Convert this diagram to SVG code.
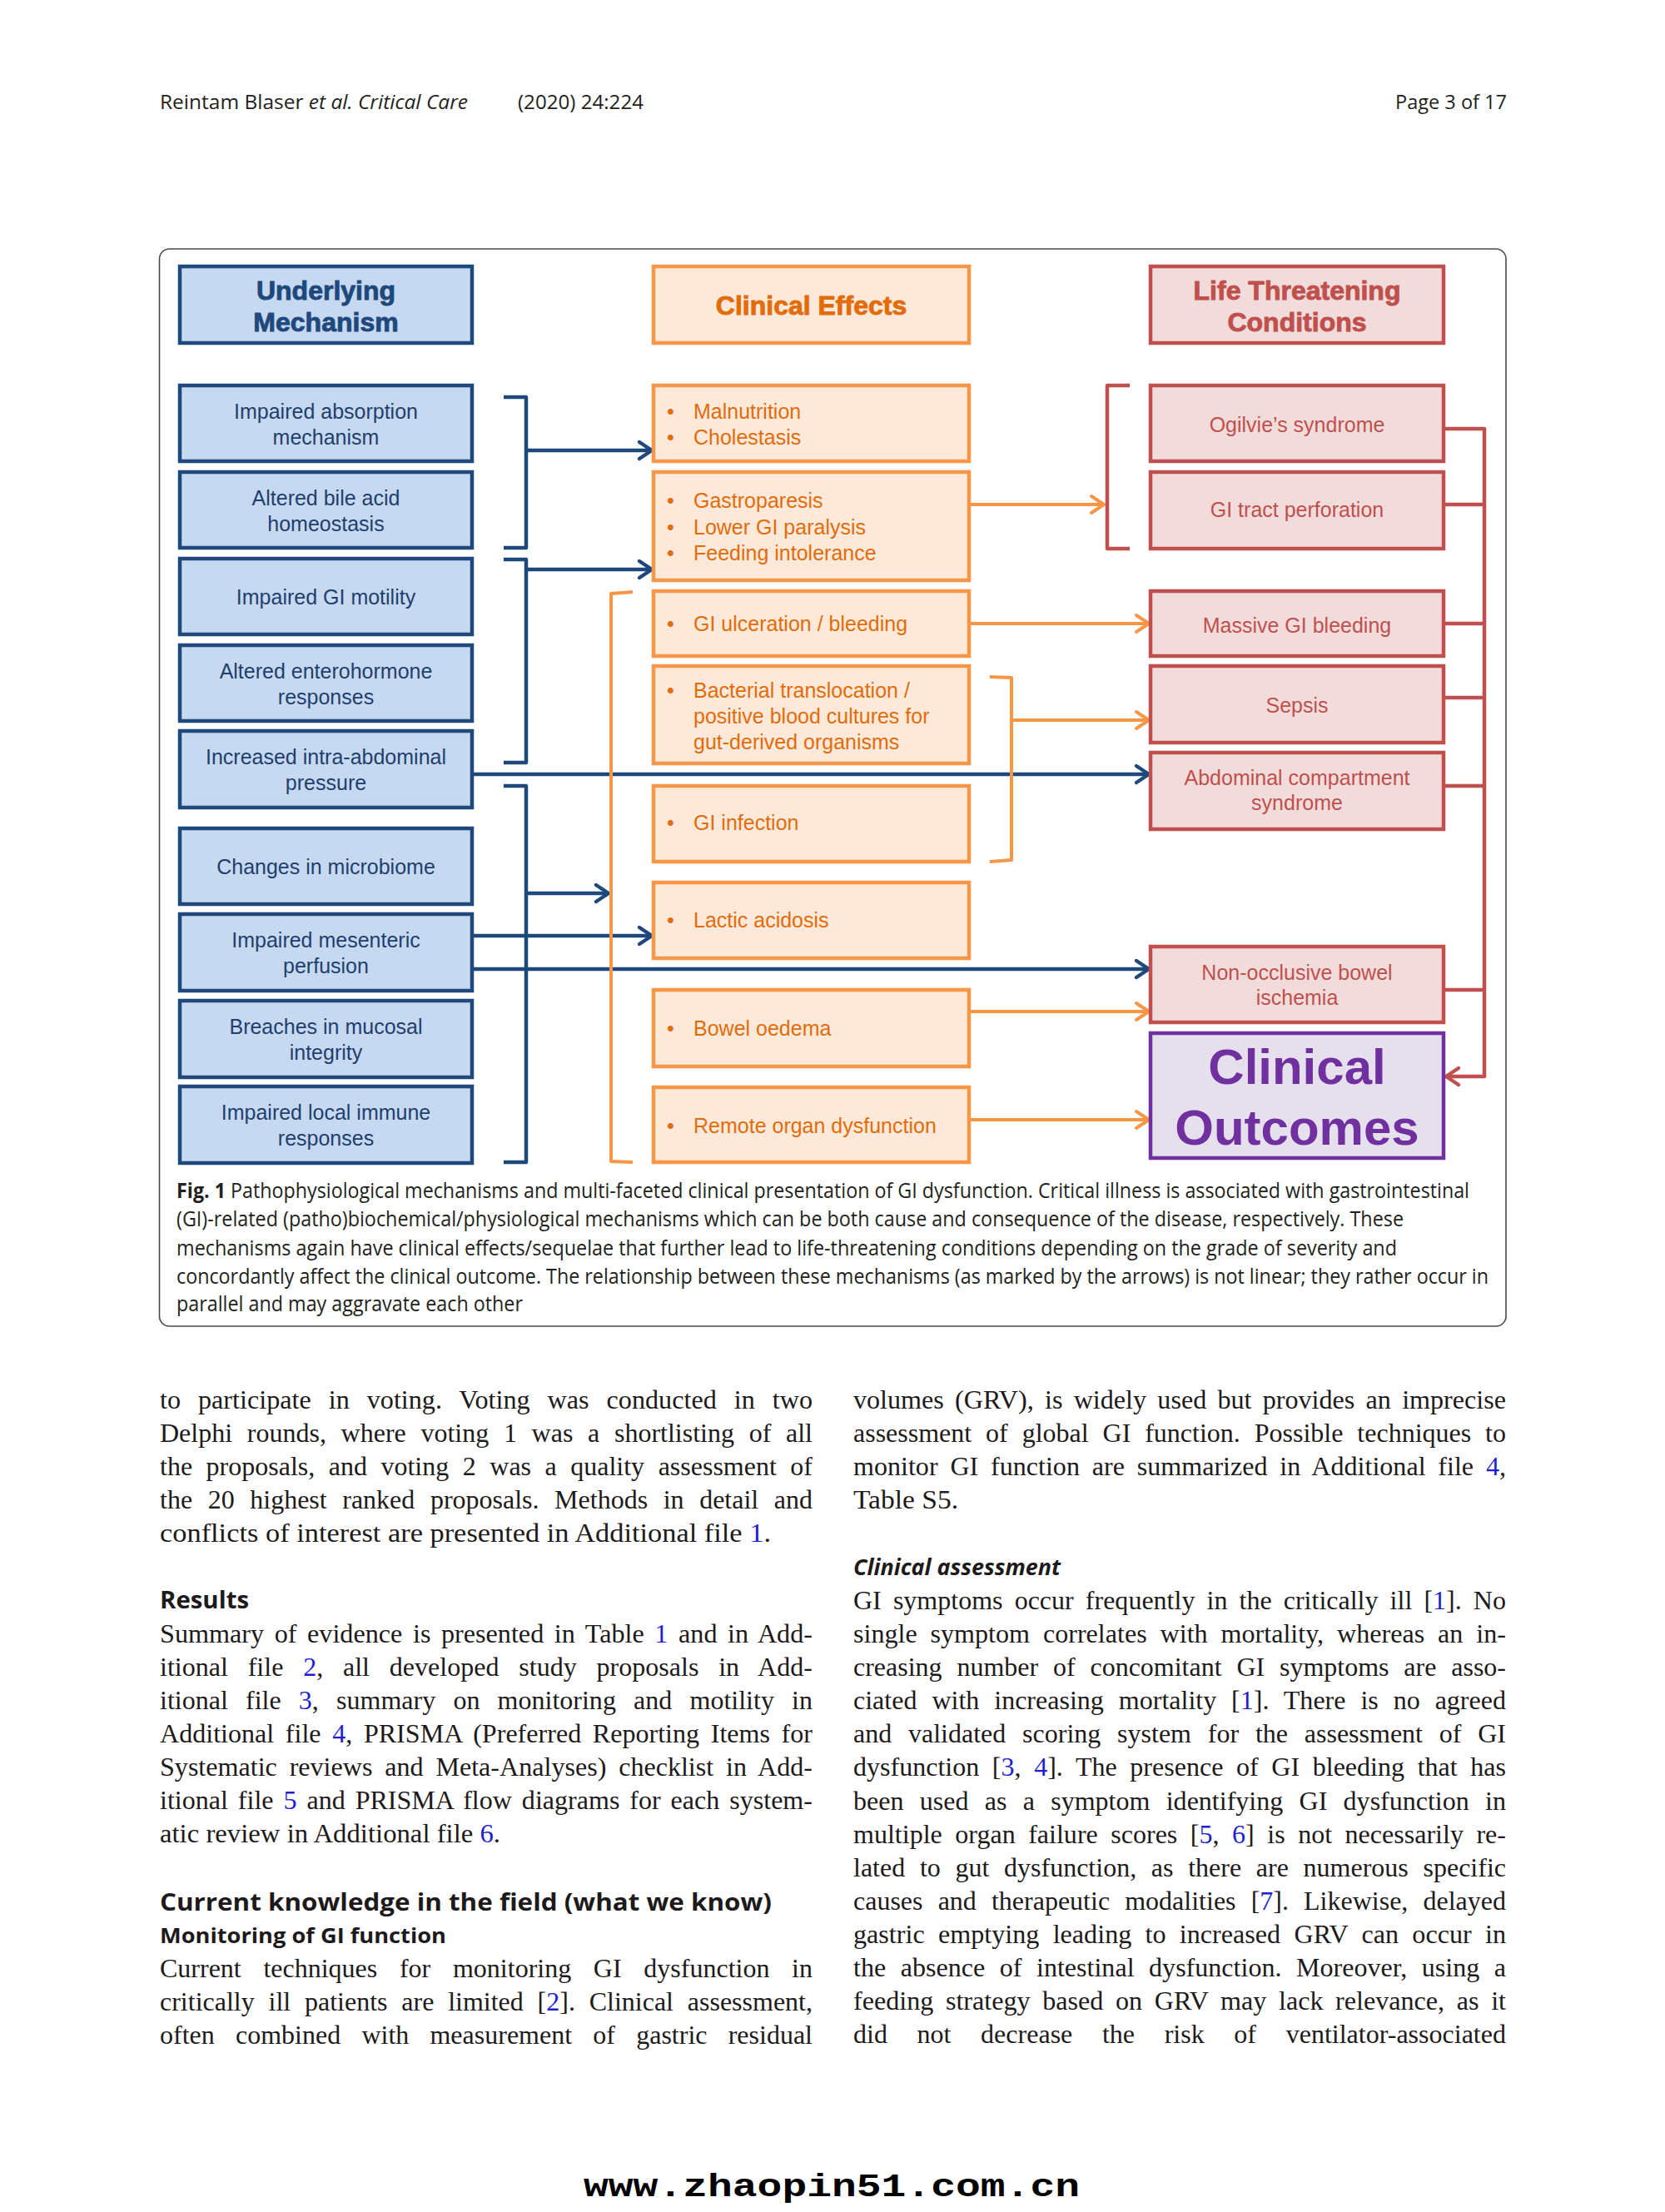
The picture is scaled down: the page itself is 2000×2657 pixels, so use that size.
<svg xmlns="http://www.w3.org/2000/svg" width="2000" height="2657" viewBox="0 0 2000 2657">
<style>
.bg{fill:#ffffff}
.frame{fill:none;stroke:#4a4a4a;stroke-width:1.6}
.bl{fill:#c6d9f1;stroke:#1f497d;stroke-width:4.5}
.or{fill:#fde9d9;stroke:#f79646;stroke-width:4.5}
.rd{fill:#f2dcdb;stroke:#c0504d;stroke-width:4.5}
.pu{fill:#e6e0ec;stroke:#7030a0;stroke-width:4.5}
.tb{font-family:"Liberation Sans",Arial,sans-serif;font-size:25px;fill:#1f3f6e;text-anchor:middle}
.to{font-family:"Liberation Sans",Arial,sans-serif;font-size:25px;fill:#e36c0a}
.tr{font-family:"Liberation Sans",Arial,sans-serif;font-size:25px;fill:#c0504d;text-anchor:middle}
.hd{font-family:"Liberation Sans",Arial,sans-serif;font-size:32px;font-weight:bold;text-anchor:middle;stroke-width:0.9}
.cb{fill:none;stroke:#1f497d;stroke-width:4.5;stroke-linejoin:round}
.co{fill:none;stroke:#f79646;stroke-width:4;stroke-linejoin:round}
.cr{fill:none;stroke:#c0504d;stroke-width:4.5;stroke-linejoin:round}
.cap{font-family:"Open Sans","Noto Sans",sans-serif;font-size:25px;fill:#231f20}
.body{font-family:"Liberation Serif","Times New Roman",serif;font-size:32px;fill:#1e1a1b}
.sh{font-family:"Open Sans","Noto Sans",sans-serif;font-weight:bold;fill:#1e1a1b}
.lk{fill:#1f1fd1}
.pg{font-family:"Open Sans","Noto Sans",sans-serif;font-size:24px;fill:#231f20}
</style>
<defs>
<marker id="ab" markerUnits="userSpaceOnUse" markerWidth="40" markerHeight="40" refX="0" refY="0" orient="auto" overflow="visible"><path d="M-15,-10 L0,0 L-15,10" fill="none" stroke="#1f497d" stroke-width="4.5" stroke-linecap="round" stroke-linejoin="round"/></marker>
<marker id="ao" markerUnits="userSpaceOnUse" markerWidth="40" markerHeight="40" refX="0" refY="0" orient="auto" overflow="visible"><path d="M-15,-10 L0,0 L-15,10" fill="none" stroke="#f79646" stroke-width="4" stroke-linecap="round" stroke-linejoin="round"/></marker>
<marker id="ar" markerUnits="userSpaceOnUse" markerWidth="40" markerHeight="40" refX="0" refY="0" orient="auto" overflow="visible"><path d="M-15,-10 L0,0 L-15,10" fill="none" stroke="#c0504d" stroke-width="4.5" stroke-linecap="round" stroke-linejoin="round"/></marker>
</defs>
<rect class="bg" x="0" y="0" width="2000" height="2657"/>

<g id="page-header">
<text class="pg" x="192" y="131" textLength="370" lengthAdjust="spacingAndGlyphs">Reintam Blaser <tspan font-style="italic">et al. Critical Care</tspan></text>
<text class="pg" x="622" y="131" textLength="151" lengthAdjust="spacingAndGlyphs">(2020) 24:224</text>
<text class="pg" x="1676" y="131" textLength="134" lengthAdjust="spacingAndGlyphs">Page 3 of 17</text>
</g>

<rect class="frame" x="191.5" y="299" width="1617.5" height="1294" rx="12"/>

<g id="connectors">
<path class="cb" d="M605,477 L632,477 L632,658 L605,658"/>
<path class="cb" d="M605,672 L632,672 L632,916 L605,916"/>
<path class="cb" d="M605,944 L632,944 L632,1396 L605,1396"/>
<line class="cb" x1="632" y1="541" x2="783" y2="541" marker-end="url(#ab)"/>
<line class="cb" x1="632" y1="684" x2="783" y2="684" marker-end="url(#ab)"/>
<line class="cb" x1="632" y1="1073" x2="731" y2="1073" marker-end="url(#ab)"/>
<line class="cb" x1="567" y1="930" x2="1380" y2="930" marker-end="url(#ab)"/>
<line class="cb" x1="567" y1="1124" x2="783" y2="1124" marker-end="url(#ab)"/>
<line class="cb" x1="567" y1="1164" x2="1380" y2="1164" marker-end="url(#ab)"/>
<path class="co" d="M760,711 L734,713 L734,1395 L760,1396"/>
<path class="co" d="M1189,813 L1215,814 L1215,1033 L1189,1035"/>
<line class="co" x1="1215" y1="865" x2="1380" y2="865" marker-end="url(#ao)"/>
<line class="co" x1="1164" y1="606" x2="1326" y2="606" marker-end="url(#ao)"/>
<line class="co" x1="1164" y1="749" x2="1380" y2="749" marker-end="url(#ao)"/>
<line class="co" x1="1164" y1="1215" x2="1380" y2="1215" marker-end="url(#ao)"/>
<line class="co" x1="1164" y1="1345" x2="1380" y2="1345" marker-end="url(#ao)"/>
<path class="cr" d="M1357,463 L1330,463 L1330,659 L1357,659"/>
<path class="cr" d="M1734,515 L1783,515 L1783,1293 L1737,1293" marker-end="url(#ar)"/>
<line class="cr" x1="1734" y1="606" x2="1783" y2="606"/>
<line class="cr" x1="1734" y1="749" x2="1783" y2="749"/>
<line class="cr" x1="1734" y1="838" x2="1783" y2="838"/>
<line class="cr" x1="1734" y1="944" x2="1783" y2="944"/>
<line class="cr" x1="1734" y1="1189" x2="1783" y2="1189"/>
</g>

<g id="h-mechanism"><rect class="bl" x="216" y="320" width="351" height="92"/>
<text class="hd" x="391.5" y="360" fill="#1f497d" stroke="#1f497d">Underlying</text><text class="hd" x="391.5" y="398" fill="#1f497d" stroke="#1f497d">Mechanism</text></g>
<g id="h-effects"><rect class="or" x="785" y="320" width="379" height="92"/>
<text class="hd" x="974.5" y="378" fill="#e36c0a" stroke="#e36c0a">Clinical Effects</text></g>
<g id="h-life"><rect class="rd" x="1382" y="320" width="352" height="92"/>
<text class="hd" x="1558" y="360" fill="#c0504d" stroke="#c0504d">Life Threatening</text><text class="hd" x="1558" y="398" fill="#c0504d" stroke="#c0504d">Conditions</text></g>

<g id="m1"><rect class="bl" x="216" y="463" width="351" height="91"/><text class="tb" x="391.5" y="503">Impaired absorption</text><text class="tb" x="391.5" y="534">mechanism</text></g>
<g id="m2"><rect class="bl" x="216" y="567" width="351" height="91"/><text class="tb" x="391.5" y="607">Altered bile acid</text><text class="tb" x="391.5" y="638">homeostasis</text></g>
<g id="m3"><rect class="bl" x="216" y="671" width="351" height="91"/><text class="tb" x="391.5" y="726">Impaired GI motility</text></g>
<g id="m4"><rect class="bl" x="216" y="775" width="351" height="91"/><text class="tb" x="391.5" y="815">Altered enterohormone</text><text class="tb" x="391.5" y="846">responses</text></g>
<g id="m5"><rect class="bl" x="216" y="878" width="351" height="92"/><text class="tb" x="391.5" y="918">Increased intra-abdominal</text><text class="tb" x="391.5" y="949">pressure</text></g>
<g id="m6"><rect class="bl" x="216" y="995" width="351" height="91"/><text class="tb" x="391.5" y="1050">Changes in microbiome</text></g>
<g id="m7"><rect class="bl" x="216" y="1098" width="351" height="92"/><text class="tb" x="391.5" y="1138">Impaired mesenteric</text><text class="tb" x="391.5" y="1169">perfusion</text></g>
<g id="m8"><rect class="bl" x="216" y="1202" width="351" height="92"/><text class="tb" x="391.5" y="1242">Breaches in mucosal</text><text class="tb" x="391.5" y="1273">integrity</text></g>
<g id="m9"><rect class="bl" x="216" y="1305" width="351" height="92"/><text class="tb" x="391.5" y="1345">Impaired local immune</text><text class="tb" x="391.5" y="1376">responses</text></g>

<g id="e1"><rect class="or" x="785" y="463" width="379" height="91"/><text class="to" x="801" y="503">•</text><text class="to" x="833" y="503">Malnutrition</text><text class="to" x="801" y="534">•</text><text class="to" x="833" y="534">Cholestasis</text></g>
<g id="e2"><rect class="or" x="785" y="567" width="379" height="130"/><text class="to" x="801" y="610">•</text><text class="to" x="833" y="610">Gastroparesis</text><text class="to" x="801" y="642">•</text><text class="to" x="833" y="642">Lower GI paralysis</text><text class="to" x="801" y="673">•</text><text class="to" x="833" y="673">Feeding intolerance</text></g>
<g id="e3"><rect class="or" x="785" y="710" width="379" height="78"/><text class="to" x="801" y="758">•</text><text class="to" x="833" y="758">GI ulceration / bleeding</text></g>
<g id="e4"><rect class="or" x="785" y="800" width="379" height="117"/><text class="to" x="801" y="838">•</text><text class="to" x="833" y="838">Bacterial translocation /</text><text class="to" x="833" y="869">positive blood cultures for</text><text class="to" x="833" y="900">gut-derived organisms</text></g>
<g id="e5"><rect class="or" x="785" y="944" width="379" height="91"/><text class="to" x="801" y="997">•</text><text class="to" x="833" y="997">GI infection</text></g>
<g id="e6"><rect class="or" x="785" y="1060" width="379" height="91"/><text class="to" x="801" y="1114">•</text><text class="to" x="833" y="1114">Lactic acidosis</text></g>
<g id="e7"><rect class="or" x="785" y="1189" width="379" height="92"/><text class="to" x="801" y="1244">•</text><text class="to" x="833" y="1244">Bowel oedema</text></g>
<g id="e8"><rect class="or" x="785" y="1306" width="379" height="90"/><text class="to" x="801" y="1361">•</text><text class="to" x="833" y="1361">Remote organ dysfunction</text></g>

<g id="c1"><rect class="rd" x="1382" y="463" width="352" height="91"/><text class="tr" x="1558" y="519">Ogilvie’s syndrome</text></g>
<g id="c2"><rect class="rd" x="1382" y="567" width="352" height="92"/><text class="tr" x="1558" y="621">GI tract perforation</text></g>
<g id="c3"><rect class="rd" x="1382" y="710" width="352" height="78"/><text class="tr" x="1558" y="760">Massive GI bleeding</text></g>
<g id="c4"><rect class="rd" x="1382" y="800" width="352" height="92"/><text class="tr" x="1558" y="856">Sepsis</text></g>
<g id="c5"><rect class="rd" x="1382" y="904" width="352" height="92"/><text class="tr" x="1558" y="943">Abdominal compartment</text><text class="tr" x="1558" y="973">syndrome</text></g>
<g id="c6"><rect class="rd" x="1382" y="1137" width="352" height="91"/><text class="tr" x="1558" y="1177">Non-occlusive bowel</text><text class="tr" x="1558" y="1207">ischemia</text></g>
<g id="outcomes"><rect class="pu" x="1382" y="1241" width="352" height="150"/>
<text x="1558" y="1302" font-family="Liberation Sans,Arial,sans-serif" font-size="60" font-weight="bold" fill="#7030a0" text-anchor="middle">Clinical</text>
<text x="1558" y="1375" font-family="Liberation Sans,Arial,sans-serif" font-size="60" font-weight="bold" fill="#7030a0" text-anchor="middle">Outcomes</text></g>

<g id="caption">
<text class="cap" x="212" y="1439" textLength="1553" lengthAdjust="spacingAndGlyphs"><tspan font-weight="bold">Fig. 1</tspan> Pathophysiological mechanisms and multi-faceted clinical presentation of GI dysfunction. Critical illness is associated with gastrointestinal</text>
<text class="cap" x="212" y="1473" textLength="1474" lengthAdjust="spacingAndGlyphs">(GI)-related (patho)biochemical/physiological mechanisms which can be both cause and consequence of the disease, respectively. These</text>
<text class="cap" x="212" y="1508" textLength="1466" lengthAdjust="spacingAndGlyphs">mechanisms again have clinical effects/sequelae that further lead to life-threatening conditions depending on the grade of severity and</text>
<text class="cap" x="212" y="1542" textLength="1576" lengthAdjust="spacingAndGlyphs">concordantly affect the clinical outcome. The relationship between these mechanisms (as marked by the arrows) is not linear; they rather occur in</text>
<text class="cap" x="212" y="1575" textLength="416" lengthAdjust="spacingAndGlyphs">parallel and may aggravate each other</text>
</g>

<g id="body-left">
<text class="body" x="192" y="1692" word-spacing="12.8" textLength="784" lengthAdjust="spacingAndGlyphs">to participate in voting. Voting was conducted in two</text>
<text class="body" x="192" y="1732" word-spacing="9.7" textLength="784" lengthAdjust="spacingAndGlyphs">Delphi rounds, where voting 1 was a shortlisting of all</text>
<text class="body" x="192" y="1772" word-spacing="8.5" textLength="784" lengthAdjust="spacingAndGlyphs">the proposals, and voting 2 was a quality assessment of</text>
<text class="body" x="192" y="1812" word-spacing="10.6" textLength="784" lengthAdjust="spacingAndGlyphs">the 20 highest ranked proposals. Methods in detail and</text>
<text class="body" x="192" y="1852" textLength="734" lengthAdjust="spacingAndGlyphs">conflicts of interest are presented in Additional file <tspan class="lk">1</tspan>.</text>
<text class="sh" x="192" y="1932" font-size="29" textLength="107" lengthAdjust="spacingAndGlyphs">Results</text>
<text class="body" x="192" y="1973" word-spacing="4.5" textLength="784" lengthAdjust="spacingAndGlyphs">Summary of evidence is presented in Table <tspan class="lk">1</tspan> and in Add-</text>
<text class="body" x="192" y="2013" word-spacing="15.7" textLength="784" lengthAdjust="spacingAndGlyphs">itional file <tspan class="lk">2</tspan>, all developed study proposals in Add-</text>
<text class="body" x="192" y="2053" word-spacing="13.2" textLength="784" lengthAdjust="spacingAndGlyphs">itional file <tspan class="lk">3</tspan>, summary on monitoring and motility in</text>
<text class="body" x="192" y="2093" word-spacing="5.6" textLength="784" lengthAdjust="spacingAndGlyphs">Additional file <tspan class="lk">4</tspan>, PRISMA (Preferred Reporting Items for</text>
<text class="body" x="192" y="2133" word-spacing="6.8" textLength="784" lengthAdjust="spacingAndGlyphs">Systematic reviews and Meta-Analyses) checklist in Add-</text>
<text class="body" x="192" y="2173" word-spacing="3.9" textLength="784" lengthAdjust="spacingAndGlyphs">itional file <tspan class="lk">5</tspan> and PRISMA flow diagrams for each system-</text>
<text class="body" x="192" y="2213" textLength="409" lengthAdjust="spacingAndGlyphs">atic review in Additional file <tspan class="lk">6</tspan>.</text>
<text class="sh" x="192" y="2295" font-size="29" textLength="735" lengthAdjust="spacingAndGlyphs">Current knowledge in the field (what we know)</text>
<text class="sh" x="192" y="2334" font-size="25" textLength="344" lengthAdjust="spacingAndGlyphs">Monitoring of GI function</text>
<text class="body" x="192" y="2375" word-spacing="18.7" textLength="784" lengthAdjust="spacingAndGlyphs">Current techniques for monitoring GI dysfunction in</text>
<text class="body" x="192" y="2415" word-spacing="8.8" textLength="784" lengthAdjust="spacingAndGlyphs">critically ill patients are limited [<tspan class="lk">2</tspan>]. Clinical assessment,</text>
<text class="body" x="192" y="2455" word-spacing="17.2" textLength="784" lengthAdjust="spacingAndGlyphs">often combined with measurement of gastric residual</text>
</g>

<g id="body-right">
<text class="body" x="1025" y="1692" word-spacing="5.2" textLength="784" lengthAdjust="spacingAndGlyphs">volumes (GRV), is widely used but provides an imprecise</text>
<text class="body" x="1025" y="1732" word-spacing="8.9" textLength="784" lengthAdjust="spacingAndGlyphs">assessment of global GI function. Possible techniques to</text>
<text class="body" x="1025" y="1772" word-spacing="6.8" textLength="784" lengthAdjust="spacingAndGlyphs">monitor GI function are summarized in Additional file <tspan class="lk">4</tspan>,</text>
<text class="body" x="1025" y="1812" textLength="126" lengthAdjust="spacingAndGlyphs">Table S5.</text>
<text class="sh" x="1025" y="1892" font-size="26" font-style="italic" textLength="249" lengthAdjust="spacingAndGlyphs">Clinical assessment</text>
<text class="body" x="1025" y="1933" word-spacing="6.1" textLength="784" lengthAdjust="spacingAndGlyphs">GI symptoms occur frequently in the critically ill [<tspan class="lk">1</tspan>]. No</text>
<text class="body" x="1025" y="1973" word-spacing="7.9" textLength="784" lengthAdjust="spacingAndGlyphs">single symptom correlates with mortality, whereas an in-</text>
<text class="body" x="1025" y="2013" word-spacing="9.8" textLength="784" lengthAdjust="spacingAndGlyphs">creasing number of concomitant GI symptoms are asso-</text>
<text class="body" x="1025" y="2053" word-spacing="9.9" textLength="784" lengthAdjust="spacingAndGlyphs">ciated with increasing mortality [<tspan class="lk">1</tspan>]. There is no agreed</text>
<text class="body" x="1025" y="2093" word-spacing="11.8" textLength="784" lengthAdjust="spacingAndGlyphs">and validated scoring system for the assessment of GI</text>
<text class="body" x="1025" y="2133" word-spacing="7.6" textLength="784" lengthAdjust="spacingAndGlyphs">dysfunction [<tspan class="lk">3</tspan>, <tspan class="lk">4</tspan>]. The presence of GI bleeding that has</text>
<text class="body" x="1025" y="2174" word-spacing="11.3" textLength="784" lengthAdjust="spacingAndGlyphs">been used as a symptom identifying GI dysfunction in</text>
<text class="body" x="1025" y="2214" word-spacing="7.5" textLength="784" lengthAdjust="spacingAndGlyphs">multiple organ failure scores [<tspan class="lk">5</tspan>, <tspan class="lk">6</tspan>] is not necessarily re-</text>
<text class="body" x="1025" y="2254" word-spacing="9.7" textLength="784" lengthAdjust="spacingAndGlyphs">lated to gut dysfunction, as there are numerous specific</text>
<text class="body" x="1025" y="2294" word-spacing="10.1" textLength="784" lengthAdjust="spacingAndGlyphs">causes and therapeutic modalities [<tspan class="lk">7</tspan>]. Likewise, delayed</text>
<text class="body" x="1025" y="2334" word-spacing="8.2" textLength="784" lengthAdjust="spacingAndGlyphs">gastric emptying leading to increased GRV can occur in</text>
<text class="body" x="1025" y="2374" word-spacing="9.5" textLength="784" lengthAdjust="spacingAndGlyphs">the absence of intestinal dysfunction. Moreover, using a</text>
<text class="body" x="1025" y="2414" word-spacing="6.6" textLength="784" lengthAdjust="spacingAndGlyphs">feeding strategy based on GRV may lack relevance, as it</text>
<text class="body" x="1025" y="2454" word-spacing="27.6" textLength="784" lengthAdjust="spacingAndGlyphs">did not decrease the risk of ventilator-associated</text>
</g>

<text id="watermark" x="701" y="2638" font-family="Liberation Mono,Courier New,monospace" font-weight="bold" font-size="38" fill="#000000" textLength="596" lengthAdjust="spacingAndGlyphs">www.zhaopin51.com.cn</text>
</svg>
